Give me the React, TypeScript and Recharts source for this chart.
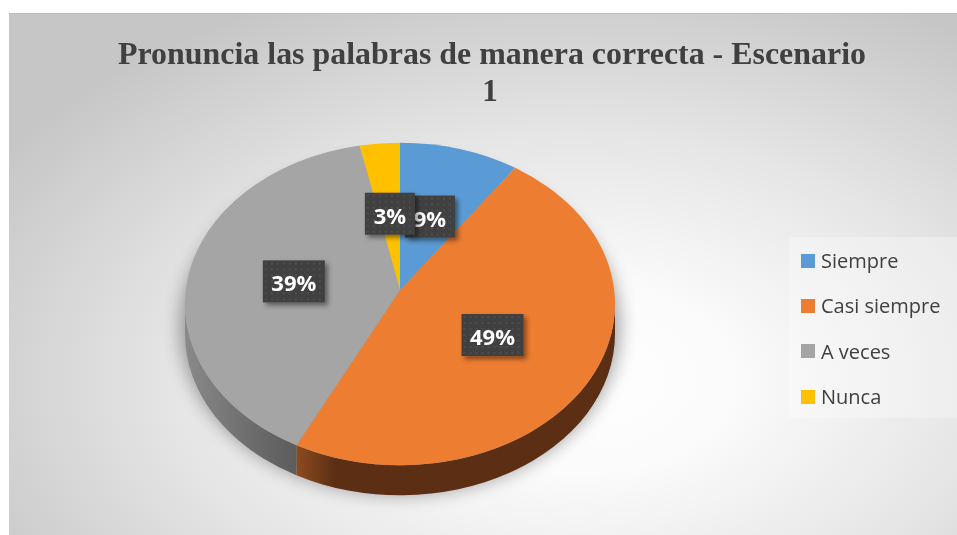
import { PieChart, Pie, Legend } from 'recharts';

const categories = ['Siempre', 'Casi siempre', 'A veces', 'Nunca'];
const percentages = [9, 49, 39, 3];
const colors = ['#5b9bd5', '#ed7d31', '#a5a5a5', '#ffc000'];
// side (depth) colours: light end, dark end
const sideColors = [
  ['#41719c', '#2e5476'],
  ['#8d4b1f', '#5c2f14'],
  ['#8a8a8a', '#5c5c5c'],
  ['#b38600', '#8a6700'],
];

const titleLines = ['Pronuncia las palabras de manera correcta - Escenario', '1'];

const data = categories.map((name, i) => ({ name, value: percentages[i], fill: colors[i] }));

const W = 948;
const H = 522;
const RY_RATIO = 0.75;
const CENTER_DROP = 14;
const DEPTH = 30;

function Slice3D(props: any) {
  const { cx, cy, outerRadius, startAngle, endAngle, fill, name } = props;
  const i = categories.indexOf(name);
  const rx = outerRadius;
  const ry = outerRadius * RY_RATIO;
  const ecy = cy + CENTER_DROP;
  const pt = (a: number, dy = 0) => {
    const r = (a * Math.PI) / 180;
    return `${cx + rx * Math.cos(r)},${ecy - ry * Math.sin(r) + dy}`;
  };
  const hi = Math.max(startAngle, endAngle);
  const lo = Math.min(startAngle, endAngle);
  const large = hi - lo > 180 ? 1 : 0;
  const top = `M${cx},${cy} L${pt(hi)} A${rx},${ry} 0 ${large} 1 ${pt(lo)} Z`;

  const segs: number[][] = [];
  for (const [a, b] of [[-180, 0], [180, 360], [-540, -360]]) {
    const s = Math.max(lo, a);
    const e = Math.min(hi, b);
    if (e > s) segs.push([s, e]);
  }
  const gid = `side-${i}`;
  const sc = sideColors[i];
  const grey = i === 2;

  return (
    <g>
      <defs>
        <linearGradient id={gid} x1="0" y1="0" x2="1" y2="0">
          <stop offset="0" stopColor={sc[0]} />
          <stop offset={grey ? '0.6' : '0.12'} stopColor={grey ? '#6c6c6c' : sc[1]} />
          <stop offset="1" stopColor={sc[1]} />
        </linearGradient>
        {i === 0 && (
          <filter id="pieShadow" x="-20%" y="-20%" width="140%" height="140%">
            <feGaussianBlur stdDeviation="9" />
          </filter>
        )}
      </defs>
      {i === 0 && (
        <ellipse
          cx={cx}
          cy={ecy + DEPTH * 0.75}
          rx={rx + 5}
          ry={ry + 7}
          fill="#000"
          opacity={0.35}
          filter="url(#pieShadow)"
        />
      )}
      {segs.map(([s, e], k) => (
        <path
          key={k}
          d={`M${pt(e)} A${rx},${ry} 0 0 1 ${pt(s)} L${pt(s, DEPTH)} A${rx},${ry} 0 0 0 ${pt(e, DEPTH)} Z`}
          fill={`url(#${gid})`}
        />
      ))}
      <path d={top} fill={fill} />
    </g>
  );
}

function renderLabel(props: any) {
  const { cx, cy, midAngle, outerRadius, percent, name } = props;
  const i = categories.indexOf(name);
  const r = outerRadius * 0.5;
  const a = (midAngle * Math.PI) / 180;
  const x = cx + r * Math.cos(a);
  const y = cy - r * RY_RATIO * Math.sin(a) + 4;
  const text = `${Math.round(percent * 100)}%`;
  const w = text.length <= 2 ? 50 : 62;
  const h = 42;
  return (
    <g key={`lbl-${i}`}>
      <defs>
        <pattern id={`dots-${i}`} x={x - w / 2} y={y - h / 2} width="6" height="6" patternUnits="userSpaceOnUse">
          <rect width="6" height="6" fill="#404040" />
          <rect x="2" y="2" width="2" height="2" fill="#4d4d4d" />
        </pattern>
        <filter id={`lblShadow-${i}`} x="-30%" y="-30%" width="160%" height="160%">
          <feDropShadow dx="3" dy="3" stdDeviation="2.5" floodColor="#000" floodOpacity="0.45" />
        </filter>
      </defs>
      <rect
        x={x - w / 2}
        y={y - h / 2}
        width={w}
        height={h}
        fill={`url(#dots-${i})`}
        filter={`url(#lblShadow-${i})`}
      />
      <text
        x={x}
        y={y + 1}
        textAnchor="middle"
        dominantBaseline="central"
        fill="#ffffff"
        fontFamily="'Open Sans', sans-serif"
        fontWeight={700}
        fontSize={22}
      >
        {text}
      </text>
    </g>
  );
}

const renderLegend = (props: any) => {
  const payload = [...(props.payload || [])].sort(
    (p: any, q: any) => categories.indexOf(p.value) - categories.indexOf(q.value)
  );
  return (
    <div
      style={{
        width: 168,
        height: 181,
        boxSizing: 'border-box',
        background: 'rgba(255,255,255,0.3)',
        paddingTop: 1,
        paddingLeft: 12,
      }}
    >
      {payload.map((entry: any, k: number) => (
        <div key={k} style={{ display: 'flex', alignItems: 'center', height: 45.3 }}>
          <span style={{ width: 14, height: 14, background: entry.color, marginRight: 6, flex: 'none' }} />
          <span
            style={{
              fontFamily: "'Open Sans', sans-serif",
              fontSize: 20,
              color: '#404040',
              whiteSpace: 'nowrap',
            }}
          >
            {entry.value}
          </span>
        </div>
      ))}
    </div>
  );
};

export default function App() {
  return (
    <div
      style={{
        position: 'fixed',
        left: 9,
        top: 13,
        width: W,
        height: H,
        background:
          'radial-gradient(ellipse 72% 80% at 60% 70%, #ffffff 0%, #fbfbfb 22%, #e6e6e6 58%, #c6c6c6 100%)',
        borderTop: '1px solid #bdbdbd',
        boxSizing: 'border-box',
      }}
    >
      <svg
        width={W}
        height={110}
        style={{ position: 'absolute', left: 0, top: 0, pointerEvents: 'none' }}
      >
        <text
          x={W / 2 + 9}
          y={50}
          textAnchor="middle"
          fontFamily="'Liberation Serif', 'Times New Roman', serif"
          fontWeight={700}
          fontSize={31}
          fill="#404040"
          textLength={748}
          lengthAdjust="spacingAndGlyphs"
        >
          {titleLines[0]}
        </text>
        <text
          x={W / 2 + 7}
          y={87}
          textAnchor="middle"
          fontFamily="'Liberation Serif', 'Times New Roman', serif"
          fontWeight={700}
          fontSize={31}
          fill="#404040"
        >
          {titleLines[1]}
        </text>
      </svg>
      <PieChart width={W} height={H - 1} margin={{ top: 0, right: 0, bottom: 0, left: 0 }}>
        <Pie
          data={data}
          dataKey="value"
          nameKey="name"
          cx={391}
          cy={276}
          outerRadius={215}
          startAngle={90}
          endAngle={-270}
          stroke="none"
          isAnimationActive={false}
          shape={Slice3D}
          inactiveShape={Slice3D}
          activeShape={Slice3D}
          label={renderLabel}
          labelLine={false}
        />
        <Legend
          layout="vertical"
          align="right"
          verticalAlign="top"
          content={renderLegend}
          wrapperStyle={{ left: 780, top: 223, width: 168, height: 181, right: 'auto' }}
        />
      </PieChart>
    </div>
  );
}
